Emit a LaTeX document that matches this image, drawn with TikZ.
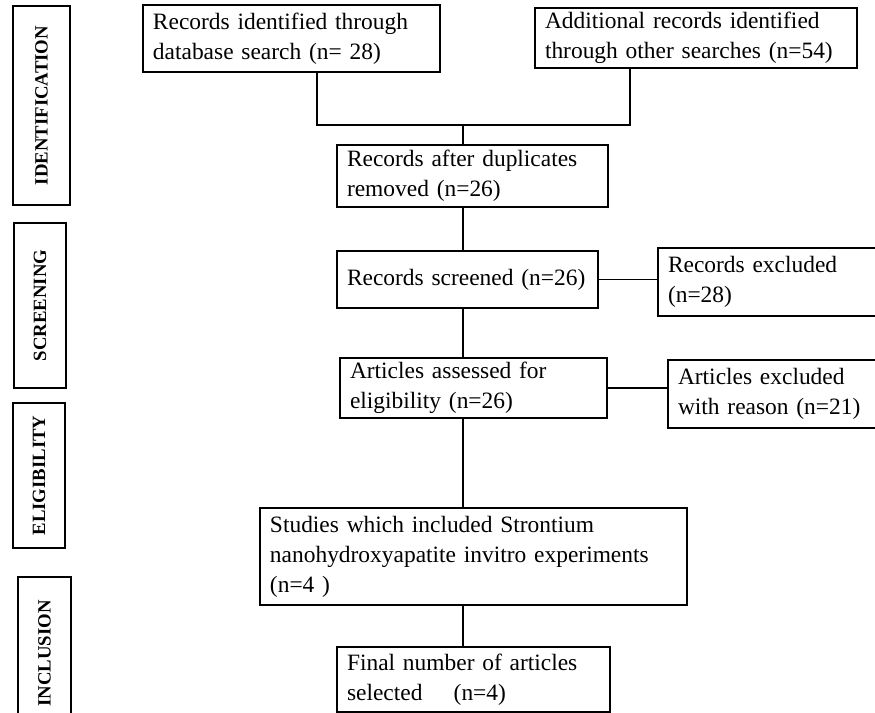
\documentclass[tikz,border=0pt]{standalone}
\usepackage{fontspec}
\setmainfont{Liberation Serif}
\begin{document}
\begin{tikzpicture}[x=0.03cm,y=-0.03cm,
  box/.style={draw, line width=0.9pt, align=left, inner xsep=0.3cm, inner ysep=0pt, font=\fontsize{20}{25.5}\selectfont},
  stage/.style={draw, line width=0.9pt, rotate=90, inner sep=0pt, font=\bfseries\fontsize{16}{18}\selectfont},
  link/.style={line width=0.9pt}]
\useasboundingbox (0,0) rectangle (875,713);
% stage labels on the left
\node[stage, minimum width=5.97cm, minimum height=1.71cm] (ident) at (41.5,105.5) {IDENTIFICATION};
\node[stage, minimum width=4.95cm, minimum height=1.56cm] (screen) at (40,305.5) {SCREENING};
\node[stage, minimum width=4.35cm, minimum height=1.56cm] (elig) at (39,475.5) {ELIGIBILITY};
\node[stage, minimum width=4.59cm, minimum height=1.59cm] (incl) at (44.5,653.5) {INCLUSION};
% flow boxes
\node[box, text width=8.31cm, minimum height=2.01cm] (rec) at (291.5,38.5) {Records identified through\\database search (n= 28)};
\node[box, text width=9.06cm, minimum height=1.80cm] (add) at (696,38) {Additional records identified\\through other searches (n=54)};
\node[box, text width=7.53cm, minimum height=1.86cm] (dup) at (472.5,176) {Records after duplicates\\removed (n=26)};
\node[box, text width=7.23cm, minimum height=1.71cm] (scr) at (467.5,279.5) {Records screened (n=26)};
\node[box, text width=6.21cm, minimum height=2.04cm] (exc) at (771.5,282) {Records excluded\\(n=28)};
\node[box, text width=7.41cm, minimum height=1.80cm] (art) at (473.5,388) {Articles assessed for\\eligibility (n=26)};
\node[box, text width=5.91cm, minimum height=2.04cm] (artexc) at (776.5,394) {Articles excluded\\with reason (n=21)};
\node[box, text width=12.21cm, minimum height=2.91cm] (stud) at (473.5,556.5) {Studies which included Strontium\\nanohydroxyapatite invitro experiments\\(n=4 )};
\node[box, text width=7.59cm, minimum height=1.95cm] (fin) at (473.5,679.5) {Final number of articles\\selected\quad\ (n=4)};
% connectors
\coordinate (jl) at (317,125);
\coordinate (jr) at (630,125);
\coordinate (spine) at (463,125);
\draw[link] (rec.south -| jl) -- (jl) -- (jr) -- (add.south -| jr);
\draw[link] (spine) -- (dup.north -| spine);
\draw[link] (dup.south -| spine) -- (scr.north -| spine);
\draw[link] (scr.east) -- (exc.west |- scr.east);
\draw[link] (scr.south -| spine) -- (art.north -| spine);
\draw[link] (art.east) -- (artexc.west |- art.east);
\draw[link] (art.south -| spine) -- (stud.north -| spine);
\draw[link] (stud.south -| spine) -- (fin.north -| spine);
\end{tikzpicture}
\end{document}
